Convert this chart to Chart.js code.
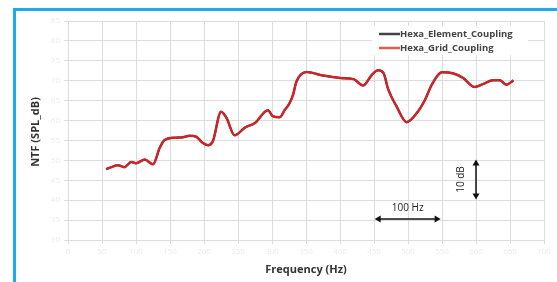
<!DOCTYPE html>
<html>
<head>
<meta charset="utf-8">
<script src="https://cdn.jsdelivr.net/npm/chart.js@4/dist/chart.umd.min.js"></script>
<style>
html,body{margin:0;padding:0;background:#fff;width:557px;height:282px;overflow:hidden;}
#frame{position:absolute;left:13px;top:8px;width:560px;height:290px;border-left:3px solid #1eaae8;border-top:3px solid #1eaae8;}
#wrap{position:absolute;left:0;top:0;width:557px;height:282px;}
</style>
</head>
<body>
<div id="frame"></div>
<div id="wrap"><canvas id="c" width="557" height="282"></canvas></div>
<script>
const freqs = [56,64,73,83,93,100,113,125,135,142,157,169,179,189,198,206,213,225,233,245,260,275,294,301,311,319,326,331,336,351,375,400,420,434,447,456,464,471,483,498,513,525,535,550,567,581,598,611,625,635,645,655];
const gridCoupling = [47.8,48.3,48.8,48.3,49.6,49.3,50.2,49.0,53.2,55.1,55.7,55.8,56.2,55.9,54.4,53.8,54.8,62.2,60.7,56.3,58.2,59.4,62.6,61.1,60.8,62.7,64.4,66.5,69.8,72.2,71.3,70.7,70.4,68.8,71.5,72.6,71.9,67.8,63.6,59.6,61.9,65.2,69.0,72.1,71.8,70.7,68.4,69.2,70.1,70.1,69.0,70.1];
const elementCoupling = [47.8,48.3,48.8,48.3,49.6,49.3,50.2,49.0,53.2,55.1,55.7,55.8,56.2,55.9,54.4,53.8,54.8,62.2,60.7,56.3,58.2,59.4,62.6,61.1,60.8,62.7,64.4,66.5,69.8,72.2,71.3,70.7,70.4,68.8,71.5,72.6,71.9,67.8,63.6,59.6,61.9,65.2,69.0,72.1,71.8,70.7,68.4,69.2,70.1,70.1,69.0,70.1];
const seriesNames = ["Hexa_Element_Coupling","Hexa_Grid_Coupling"];
const xTicks = [0,50,100,150,200,250,300,350,400,450,500,550,600,650,700];
const yTicks = [30,35,40,45,50,55,60,65,70,75,80,85];
const xTitle = "Frequency (Hz)";
const yTitle = "NTF (SPL_dB)";
const hzArrow = {from:451, to:548, y:35.25, label:"100 Hz"};
const dbArrow = {x:600, from:40.2, to:50.2, label:"10 dB"};

const toPts = (xs, ys) => xs.map((x,i)=>({x:x,y:ys[i]}));

function arrowHead(ctx, x, y, ang){
  const L=6, W=3.5;
  ctx.save();ctx.translate(x,y);ctx.rotate(ang);
  ctx.beginPath();ctx.moveTo(0,0);ctx.lineTo(-L,-W);ctx.lineTo(-L,W);ctx.closePath();ctx.fill();
  ctx.restore();
}

const overlay = {
  id:'overlay',
  afterDraw(chart){
    const ctx=chart.ctx, xs=chart.scales.x, ys=chart.scales.y, ca=chart.chartArea;
    ctx.save();
    // axis titles
    ctx.fillStyle='#333';
    ctx.font='bold 11px "Open Sans", sans-serif';
    ctx.textAlign='center';ctx.textBaseline='middle';
    ctx.fillText(xTitle,(ca.left+ca.right)/2,270);
    ctx.save();ctx.translate(36,132);ctx.rotate(-Math.PI/2);
    ctx.fillText(yTitle,0,0);ctx.restore();
    // legend
    const lx=379, ly0=34, ly1=48;
    ctx.fillStyle='#fff';ctx.fillRect(lx-7,26,156,29);
    const cols=['#444','#e05a5a'];
    ctx.font='bold 9.5px "Open Sans", sans-serif';ctx.textAlign='left';
    [ly0,ly1].forEach((yy,i)=>{
      ctx.strokeStyle=cols[i];ctx.lineWidth=2.5;
      ctx.beginPath();ctx.moveTo(lx,yy);ctx.lineTo(lx+21,yy);ctx.stroke();
      ctx.fillStyle='#444';ctx.fillText(seriesNames[i],lx+21,yy);
    });
    // 100 Hz arrow
    ctx.strokeStyle='#111';ctx.fillStyle='#111';ctx.lineWidth=1.5;
    const ax0=xs.getPixelForValue(hzArrow.from), ax1=xs.getPixelForValue(hzArrow.to), ay=ys.getPixelForValue(hzArrow.y);
    ctx.beginPath();ctx.moveTo(ax0+4,ay);ctx.lineTo(ax1-4,ay);ctx.stroke();
    arrowHead(ctx,ax1,ay,0);arrowHead(ctx,ax0,ay,Math.PI);
    ctx.font='10px "Open Sans", sans-serif';ctx.textAlign='center';ctx.fillStyle='#222';
    ctx.fillText(hzArrow.label,(ax0+ax1)/2,ay-11);
    // 10 dB arrow
    ctx.fillStyle='#111';
    const bx=xs.getPixelForValue(dbArrow.x), by0=ys.getPixelForValue(dbArrow.from), by1=ys.getPixelForValue(dbArrow.to);
    ctx.beginPath();ctx.moveTo(bx,by0-4);ctx.lineTo(bx,by1+4);ctx.stroke();
    arrowHead(ctx,bx,by1,-Math.PI/2);arrowHead(ctx,bx,by0,Math.PI/2);
    ctx.save();ctx.translate(bx-15,(by0+by1)/2);ctx.rotate(-Math.PI/2);
    ctx.fillStyle='#222';ctx.fillText(dbArrow.label,0,0);ctx.restore();
    ctx.restore();
  }
};

new Chart(document.getElementById('c'),{
  type:'line',
  data:{datasets:[
    {label:seriesNames[1],data:toPts(freqs,gridCoupling),borderColor:'#c8262a',borderWidth:2.5,pointRadius:0,tension:0.35,cubicInterpolationMode:'monotone',order:1},
    {label:seriesNames[0],data:toPts(freqs,elementCoupling),borderColor:'#333',borderWidth:2,pointRadius:0,tension:0.35,cubicInterpolationMode:'monotone',order:2}
  ]},
  options:{
    responsive:false,animation:false,
    layout:{padding:{top:21,right:13,left:0,bottom:0},autoPadding:false},
    plugins:{legend:{display:false},tooltip:{enabled:false}},
    scales:{
      x:{type:'linear',min:0,max:700,
        afterBuildTicks(s){s.ticks=xTicks.map(v=>({value:v}));},
        afterFit(s){s.height=42;},
        grid:{color:'#dcdcdc',lineWidth:1,tickLength:4,drawTicks:true},
        border:{display:false},
        ticks:{color:'#ebebeb',font:{size:8,family:'"Open Sans", sans-serif'},maxRotation:0,autoSkip:false,padding:3}
      },
      y:{type:'linear',min:30,max:85,
        afterBuildTicks(s){s.ticks=yTicks.map(v=>({value:v}));},
        afterFit(s){s.width=68;},
        grid:{color:'#dcdcdc',lineWidth:1,tickLength:4},
        border:{display:false},
        ticks:{color:'#ebebeb',font:{size:8,family:'"Open Sans", sans-serif'},padding:4}
      }
    }
  },
  plugins:[overlay]
});
</script>
</body>
</html>
